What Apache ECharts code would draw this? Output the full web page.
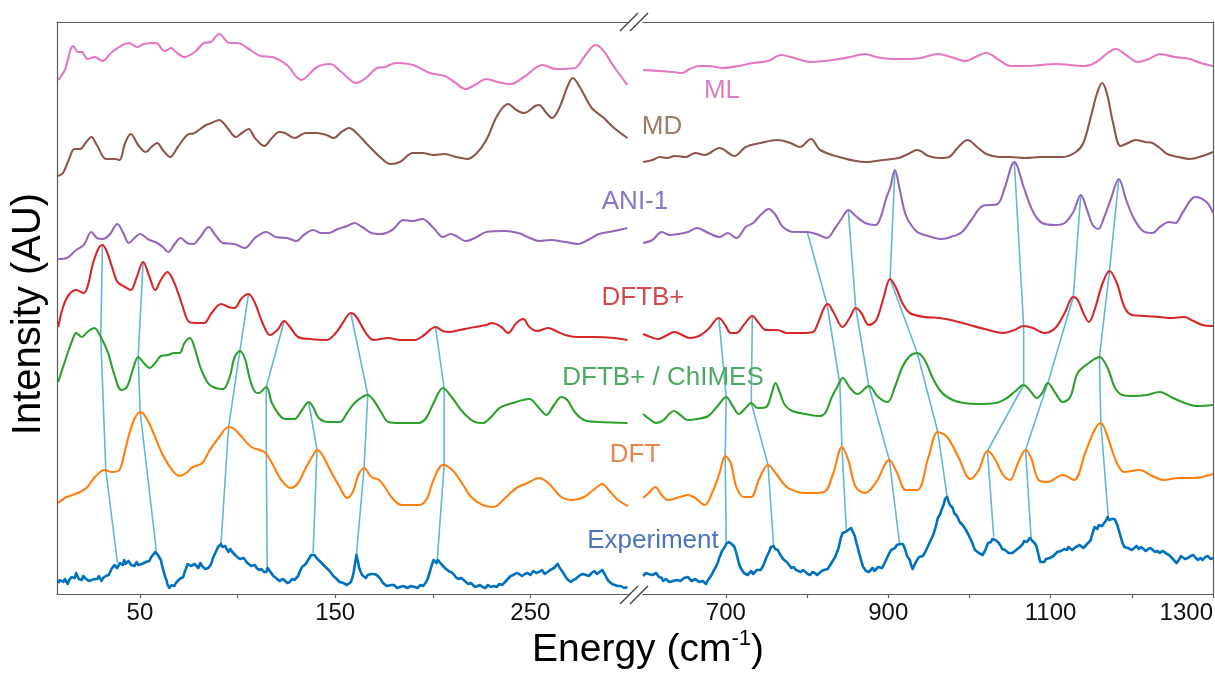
<!DOCTYPE html>
<html><head><meta charset="utf-8">
<script src="https://cdn.jsdelivr.net/npm/echarts@6/dist/echarts.min.js"></script>
<style>html,body{margin:0;padding:0;background:#fff}#c{width:1215px;height:673px}</style>
</head><body><div id="c"></div>
<script>
// ---------- tick values ----------
const leftTicks = [50, 100, 150, 200, 250];
const leftTickLabels = [50, 150, 250];
const rightTicks = [700, 800, 900, 1000, 1100, 1200, 1300];
const rightTickLabels = [700, 900, 1100, 1300];

// ---------- series names ----------
const names = ['ML', 'MD', 'ANI-1', 'DFTB+', 'DFTB+ / ChIMES', 'DFT', 'Experiment'];

// ---------- spectra (energy cm^-1, stacked intensity AU) ----------
const mlLeft = [[8.1,51.4],[11.5,52.4],[15.8,54.8],[18.3,54.2],[20.2,54.2],[23.1,53.5],[26.9,53.7],[30.8,53.3],[35.7,54.2],[44.3,55.1],[48.6,54.7],[52.0,55.0],[58.2,55.1],[62.6,54.3],[65.9,54.6],[68.4,54.2],[72.8,53.7],[78.0,54.2],[82.8,55.1],[86.3,55.2],[90.6,56.0],[96.0,55.1],[100.2,55.1],[105.0,54.6],[111.8,53.8],[117.6,53.7],[125.3,52.9],[132.6,51.4],[140.7,52.7],[147.4,53.0],[153.2,52.2],[160.9,51.1],[165.7,51.6],[171.5,52.6],[175.4,52.7],[181.1,53.1],[189.8,52.9],[198.5,52.1],[206.2,51.8],[211.0,51.2],[216.8,50.5],[221.6,50.9],[227.4,51.5],[233.2,51.2],[240.0,51.0],[246.7,51.7],[256.3,52.9],[263.1,52.5],[272.7,52.6],[277.5,53.7],[283.3,54.9],[287.1,54.4],[292.9,52.7],[299.7,50.9]];
const mlRight = [[598,52.4],[618.8,52.3],[634.8,52.2],[646.3,52.1],[655.5,52.5],[667.0,52.8],[678.5,52.8],[696.9,52.6],[715.3,52.8],[733.6,53.1],[752.0,53.3],[768.1,53.9],[784.2,53.6],[804.9,53.2],[820.9,53.3],[839.3,53.5],[853.1,53.7],[871.5,54.0],[885.3,53.7],[903.7,53.5],[922.0,53.5],[940.4,53.6],[961.1,54.0],[977.2,53.7],[995.6,53.3],[1007.0,53.7],[1020.8,54.1],[1034.6,53.5],[1050.7,52.8],[1069.1,52.8],[1087.5,52.9],[1105.8,53.0],[1124.2,52.9],[1142.6,52.8],[1156.4,53.2],[1170.2,54.1],[1180.3,54.5],[1193.1,53.9],[1206.9,53.2],[1220.7,53.5],[1234.5,54.0],[1252.9,53.7],[1271.3,53.5],[1285.0,53.1],[1300,52.8]];

const mdLeft = [[8.1,41.8],[10.6,42.1],[13.5,43.4],[16.4,44.5],[19.3,44.5],[22.1,45.1],[25.1,45.7],[27.9,44.9],[32.7,43.5],[37.6,43.5],[39.5,43.4],[42.4,45.1],[45.3,46.0],[49.1,44.9],[53.0,44.2],[55.9,44.7],[58.8,45.1],[61.7,44.4],[65.5,43.7],[69.4,44.7],[74.2,45.9],[78.0,46.1],[83.8,46.9],[86.7,47.1],[90.6,47.4],[94.4,46.7],[99.2,45.7],[102.2,46.1],[105.6,46.5],[108.9,45.6],[113.7,44.8],[117.6,45.6],[121.4,46.2],[124.3,46.1],[129.1,45.6],[134.9,46.1],[140.7,46.1],[145.5,45.9],[149.3,45.6],[153.2,46.2],[157.1,46.6],[160.9,46.1],[167.7,44.7],[173.5,43.6],[178.3,43.0],[183.1,43.2],[189.8,44.1],[194.6,44.1],[200.4,43.9],[206.2,44.0],[212.0,43.7],[217.8,43.5],[222.6,44.1],[227.4,45.4],[233.2,47.9],[238.6,49.0],[242.8,48.4],[246.7,48.1],[252.5,48.8],[254.4,48.9],[258.2,48.1],[261.1,47.6],[265.0,48.7],[268.9,50.7],[271.7,51.6],[275.6,50.6],[281.4,48.6],[287.1,47.7],[292.9,46.6],[299.7,45.6]];
const mdRight = [[598.1,43.2],[609.6,43.4],[618.8,43.7],[628.0,43.6],[637.1,43.8],[650.9,43.7],[662.4,44.1],[673.9,43.9],[692.3,44.6],[710.7,43.8],[724.4,44.7],[742.8,45.1],[763.5,45.4],[779.6,45.1],[791.1,44.7],[804.9,45.5],[816.3,44.4],[843.9,43.6],[871.5,43.2],[894.5,43.4],[912.8,43.6],[924.3,44.0],[935.8,44.4],[949.6,43.8],[963.4,43.6],[974.9,43.7],[986.4,44.7],[997.8,45.4],[1009.3,44.7],[1020.8,44.0],[1036.9,43.7],[1050.7,43.7],[1069.1,43.6],[1087.5,43.7],[1115.0,43.7],[1131.1,44.2],[1140.3,45.1],[1149.5,47.7],[1157.3,50.1],[1163.3,51.1],[1169.2,50.1],[1177.0,47.1],[1186.2,44.8],[1195.4,45.1],[1204.6,45.4],[1216.1,45.2],[1225.3,45.1],[1234.5,44.6],[1243.7,44.0],[1257.5,43.7],[1271.3,43.5],[1287.3,43.8],[1300,44.2]];

const aniLeft = [[8.1,33.5],[12.5,33.6],[17.3,34.4],[21.2,34.9],[25.1,36.2],[27.9,35.6],[30.8,35.5],[34.3,35.9],[38.5,37.0],[41.4,36.1],[44.3,35.1],[47.2,35.6],[50.1,36.0],[53.9,35.5],[58.8,35.1],[61.7,34.7],[64.5,34.2],[67.4,34.9],[70.9,35.6],[74.2,35.1],[77.1,35.0],[80.9,35.7],[85.2,36.7],[88.6,35.9],[92.5,35.1],[98.3,35.0],[103.7,34.6],[108.9,35.6],[114.7,36.2],[119.5,35.7],[125.3,35.6],[130.1,35.3],[133.9,35.9],[138.7,36.4],[142.6,36.1],[146.5,36.1],[151.3,36.5],[156.1,36.8],[159.9,37.1],[163.8,36.7],[168.6,36.1],[173.5,36.0],[179.2,36.4],[185.0,37.4],[189.8,37.3],[194.6,37.5],[200.4,36.6],[205.2,35.7],[209.1,36.0],[212.0,35.8],[216.8,35.3],[222.6,35.7],[227.4,36.2],[237.0,36.3],[243.8,36.1],[248.6,35.7],[254.4,35.3],[260.2,35.4],[267.9,35.2],[274.6,35.0],[279.5,35.4],[285.2,36.0],[292.9,36.3],[299.7,36.6]];
const aniRight = [[598.1,35.1],[609.6,35.4],[621.1,36.2],[630.2,35.9],[641.7,36.0],[653.2,36.2],[664.7,36.6],[678.5,36.1],[692.3,35.7],[702.4,36.1],[713.0,35.6],[724.4,36.7],[733.6,37.1],[742.8,37.9],[752.9,38.5],[761.2,37.9],[770.4,36.7],[784.2,36.2],[800.3,36.2],[811.8,36.0],[824.6,35.6],[834.7,36.6],[843.9,37.7],[850.8,38.4],[860.0,37.8],[871.5,37.1],[884.4,36.9],[890.8,37.7],[896.8,39.4],[902.3,40.6],[908.2,42.4],[913.8,40.6],[919.7,38.4],[924.3,37.4],[935.8,36.2],[949.6,35.8],[965.7,35.5],[977.2,35.7],[990.9,36.2],[1002.4,37.4],[1016.2,38.8],[1034.6,39.0],[1043.8,40.7],[1055.3,43.2],[1066.8,40.7],[1073.7,39.1],[1080.6,37.9],[1089.7,37.1],[1105.8,36.9],[1117.3,37.1],[1127.9,38.2],[1137.1,39.9],[1144.9,38.4],[1151.8,36.9],[1158.7,36.5],[1165.6,37.6],[1173.8,39.4],[1184.0,41.5],[1193.1,39.4],[1202.3,37.6],[1213.8,36.3],[1225.3,36.1],[1234.5,36.7],[1246.0,37.2],[1253.8,37.1],[1263.0,38.2],[1278.1,39.7],[1292.0,39.2],[1300,38.1]];

const dftbLeft = [[8.1,26.7],[10.6,28.7],[13.5,29.9],[17.3,30.4],[21.2,30.1],[23.1,30.7],[26.0,33.1],[28.9,34.6],[30.8,34.9],[32.7,34.4],[35.7,32.7],[38.5,31.2],[42.4,30.7],[45.3,30.4],[48.2,31.6],[51.6,33.2],[54.9,31.7],[57.8,30.4],[60.7,31.4],[64.0,32.2],[67.4,31.2],[71.3,29.1],[75.2,27.2],[79.0,27.1],[82.8,27.1],[86.7,28.1],[91.5,29.0],[95.4,28.7],[98.3,28.6],[102.2,29.6],[105.6,30.0],[108.9,29.1],[112.8,27.1],[116.6,25.9],[120.4,26.4],[123.9,27.3],[127.2,26.6],[131.0,25.7],[136.8,25.5],[145.5,25.4],[150.3,26.1],[154.2,27.2],[158.0,28.1],[160.9,27.7],[165.7,26.1],[169.6,25.4],[177.3,25.6],[183.1,25.4],[190.8,25.4],[195.6,25.9],[201.4,26.7],[205.2,26.3],[208.1,26.2],[213.9,26.4],[221.6,26.7],[227.4,26.9],[230.3,27.1],[235.1,26.7],[238.6,26.1],[242.8,27.1],[246.3,27.5],[249.5,26.7],[253.4,26.3],[259.2,26.6],[263.1,26.3],[267.9,25.9],[273.7,25.7],[283.3,25.7],[292.9,25.6],[299.7,25.4]];
const dftbRight = [[598.1,26.0],[607.3,25.7],[616.5,25.5],[625.7,25.8],[637.1,26.2],[646.3,25.9],[655.5,25.6],[667.0,25.8],[678.5,26.5],[691.4,27.6],[699.2,26.9],[706.1,26.1],[713.0,26.1],[722.1,26.9],[732.7,27.8],[740.5,27.1],[749.7,26.4],[763.5,26.4],[775.0,26.1],[793.4,26.1],[807.2,26.2],[814.0,27.2],[820.9,28.6],[825.5,29.0],[832.4,28.2],[843.9,26.7],[853.1,27.7],[860.0,28.6],[866.9,28.1],[876.1,26.9],[885.3,27.4],[894.5,29.7],[902.3,31.5],[909.2,30.7],[917.4,29.1],[926.6,28.1],[945.0,27.7],[963.4,27.6],[981.8,27.3],[1000.1,26.9],[1018.5,26.5],[1041.5,26.1],[1055.3,26.4],[1066.8,26.8],[1078.3,26.6],[1092.0,26.1],[1105.8,26.6],[1117.3,28.1],[1127.9,29.7],[1133.4,29.4],[1140.3,28.1],[1147.2,27.2],[1154.1,28.4],[1163.3,30.9],[1172.5,32.3],[1181.6,31.1],[1190.8,28.7],[1200.0,27.9],[1216.1,27.8],[1234.5,27.7],[1248.3,27.6],[1264.4,27.7],[1275.8,27.3],[1287.3,26.9],[1300,26.8]];

const chimesLeft = [[8.1,21.2],[10.6,22.7],[13.5,24.4],[15.4,25.4],[17.3,26.1],[20.2,25.7],[23.1,26.2],[26.6,26.6],[29.9,25.7],[33.7,24.1],[36.6,22.1],[40.5,20.4],[43.3,20.7],[46.3,22.4],[49.1,23.7],[52.0,23.1],[54.9,22.6],[57.8,23.1],[60.7,23.8],[64.5,23.9],[67.4,24.1],[70.3,24.1],[72.8,25.1],[75.6,25.6],[78.0,24.6],[80.9,22.7],[84.8,21.1],[88.6,20.6],[92.5,20.5],[96.0,21.7],[98.3,23.6],[101.2,24.3],[104.0,23.4],[106.0,21.7],[108.9,20.2],[110.8,20.1],[114.7,20.7],[117.6,19.1],[121.4,17.9],[124.3,17.5],[129.1,17.5],[133.0,18.4],[136.4,19.2],[138.7,18.7],[141.6,17.6],[146.5,17.2],[152.3,17.2],[156.1,18.1],[159.9,19.1],[164.8,19.8],[166.7,19.9],[169.6,19.4],[173.5,18.2],[177.3,17.2],[183.1,17.1],[192.7,17.1],[196.6,17.6],[200.4,19.1],[205.2,20.6],[210.0,19.6],[215.8,18.1],[221.6,17.2],[225.5,17.1],[229.3,17.6],[234.2,18.6],[240.9,19.1],[249.5,19.5],[254.4,18.6],[258.2,17.9],[262.1,18.9],[265.9,19.7],[268.9,19.4],[272.7,18.2],[277.5,17.4],[285.2,17.2],[299.7,17.1]];
const chimesRight = [[598.1,18.0],[607.3,17.4],[614.2,17.1],[623.4,17.4],[630.2,18.0],[636.2,18.3],[644.0,17.9],[653.2,17.4],[664.7,17.5],[678.5,17.8],[690.0,18.8],[700.5,19.7],[708.4,18.8],[716.2,18.0],[724.4,18.6],[731.3,19.1],[739.1,18.6],[749.7,18.7],[756.6,20.1],[761.2,21.1],[766.7,20.1],[772.7,18.9],[781.9,18.3],[798.0,18.0],[816.3,17.8],[823.2,18.2],[830.1,19.6],[838.4,20.9],[843.9,21.6],[853.1,20.6],[862.3,20.0],[876.1,20.8],[887.6,19.7],[899.1,19.2],[908.2,20.7],[917.4,22.7],[926.6,23.8],[935.8,24.1],[945.0,23.4],[954.2,21.7],[963.4,20.4],[972.6,19.7],[986.4,19.2],[1009.3,19.0],[1032.3,19.1],[1046.1,19.6],[1055.3,20.2],[1066.8,20.9],[1076.0,20.2],[1082.9,19.6],[1089.7,20.1],[1096.6,21.1],[1105.8,20.1],[1115.0,19.2],[1124.2,19.7],[1133.4,22.1],[1147.2,23.1],[1160.1,23.7],[1170.2,22.6],[1179.4,20.6],[1188.5,19.9],[1202.3,19.8],[1218.4,19.9],[1234.5,20.2],[1248.3,19.7],[1262.1,19.2],[1280.4,18.8],[1300,18.9]];

const dftLeft = [[8.1,9.1],[11.5,9.6],[15.4,9.9],[19.3,10.2],[23.1,10.7],[26.9,11.7],[31.8,12.4],[35.7,12.2],[39.5,12.4],[42.4,14.4],[46.3,17.1],[50.1,18.2],[53.0,17.7],[56.9,16.1],[61.7,13.9],[66.5,12.4],[70.3,11.8],[74.2,12.2],[77.1,12.7],[81.9,13.1],[85.8,14.4],[90.6,15.7],[95.4,16.7],[98.3,16.5],[102.2,15.7],[107.0,14.7],[113.7,14.2],[117.6,13.1],[122.4,11.4],[127.2,10.6],[131.0,11.1],[134.9,12.6],[138.7,13.9],[140.7,14.4],[143.5,13.9],[147.4,12.4],[152.3,10.7],[156.1,9.6],[159.0,10.2],[161.9,11.9],[164.8,12.6],[168.6,11.7],[172.5,11.4],[175.4,10.7],[179.2,9.6],[184.0,8.9],[192.7,8.9],[196.6,9.4],[200.4,11.4],[205.2,12.9],[210.0,12.4],[214.9,11.1],[219.7,9.7],[225.5,8.9],[231.2,8.7],[237.0,9.6],[242.8,10.6],[248.6,11.1],[254.4,11.6],[259.2,11.1],[265.9,9.7],[271.7,9.4],[277.5,9.7],[282.3,10.4],[286.8,11.0],[290.1,10.4],[294.9,9.4],[300,8.8]];
const dftRight = [[598.1,9.6],[605.0,10.1],[613.2,10.7],[621.1,9.9],[628.0,9.4],[639.4,9.6],[653.2,9.9],[662.4,9.6],[673.9,8.9],[683.1,10.1],[692.3,12.1],[699.2,13.8],[706.1,13.1],[713.0,10.7],[722.1,9.7],[731.3,9.7],[740.5,11.4],[752.0,12.9],[761.2,12.1],[775.0,10.7],[788.8,10.2],[802.6,10.1],[820.9,10.2],[832.4,12.1],[843.0,14.7],[850.8,13.4],[860.0,10.7],[871.5,10.1],[885.3,11.2],[901.4,13.4],[910.5,12.2],[922.0,10.4],[935.8,10.4],[949.6,13.7],[961.1,16.2],[972.6,15.7],[986.4,13.7],[1001.1,11.5],[1011.6,12.4],[1022.2,14.3],[1030.0,13.7],[1041.5,11.9],[1049.8,11.4],[1059.9,13.1],[1069.1,14.4],[1076.0,13.6],[1085.2,11.4],[1096.6,11.2],[1115.0,11.9],[1128.8,11.4],[1142.6,14.1],[1154.1,16.4],[1161.9,17.1],[1170.2,15.7],[1181.6,13.1],[1190.8,12.2],[1209.2,12.4],[1225.3,11.8],[1239.1,11.4],[1257.5,11.6],[1275.8,11.6],[1300,12.0]];

const expLeft = [[8.1,1.1],[9.0,1.4],[9.8,1.5],[10.7,1.2],[11.5,1.5],[12.2,1.3],[13.0,1.0],[13.7,1.4],[14.4,1.3],[15.1,1.7],[15.8,1.9],[16.6,1.6],[17.3,2.1],[18.0,1.8],[18.7,1.5],[19.4,1.3],[20.2,1.4],[20.9,1.8],[21.6,1.9],[22.4,1.5],[23.1,1.6],[23.8,1.3],[24.5,1.1],[25.3,1.4],[26.0,1.2],[26.7,1.5],[27.4,1.7],[28.2,1.5],[28.9,1.8],[29.6,1.6],[30.3,1.3],[31.1,1.6],[31.8,1.5],[32.5,1.8],[33.2,1.6],[34.0,1.9],[34.7,2.1],[35.4,2.5],[36.1,2.4],[36.9,2.9],[37.6,3.0],[38.3,2.6],[39.0,2.8],[39.8,3.1],[40.5,3.2],[41.2,2.9],[41.9,3.4],[42.6,3.0],[43.3,2.9],[44.1,3.3],[44.8,3.3],[45.5,2.9],[46.3,3.1],[47.2,2.8],[48.2,3.2],[49.1,2.9],[50.1,2.7],[51.0,3.0],[52.0,2.9],[53.0,3.2],[53.9,3.4],[54.8,3.3],[55.8,3.7],[56.8,3.9],[57.8,4.2],[58.5,4.0],[59.2,3.9],[60.0,3.7],[60.7,3.4],[61.4,2.8],[62.1,2.3],[62.9,1.7],[63.6,1.4],[64.0,1.0],[64.5,0.9],[65.0,0.6],[65.5,0.7],[66.2,0.9],[66.9,1.0],[67.6,0.8],[68.4,1.1],[69.3,1.3],[70.3,1.5],[71.2,1.4],[72.2,1.7],[72.9,2.2],[73.7,2.6],[74.4,3.0],[75.2,3.1],[76.1,2.8],[77.1,2.7],[78.0,3.0],[79.0,2.8],[79.9,2.6],[80.9,3.1],[81.8,2.8],[82.8,2.9],[83.5,2.5],[84.3,2.3],[85.0,2.6],[85.8,2.4],[86.5,3.0],[87.2,3.5],[87.9,3.8],[88.6,4.1],[89.3,4.4],[90.0,4.7],[90.8,4.6],[91.5,5.0],[92.2,4.7],[92.9,4.5],[93.7,4.8],[94.4,4.5],[95.4,4.2],[96.3,4.5],[97.3,4.2],[98.3,4.1],[99.2,3.8],[100.2,3.9],[101.2,3.5],[102.2,3.4],[103.1,3.6],[104.1,3.4],[105.0,3.1],[106.0,3.1],[107.0,2.8],[107.9,2.7],[108.9,2.9],[109.8,2.6],[111.0,2.4],[112.2,2.5],[113.5,2.2],[114.7,2.2],[115.4,2.6],[116.1,2.5],[116.9,2.2],[117.6,2.1],[118.3,1.8],[119.0,1.9],[119.7,1.6],[120.4,1.5],[121.4,1.3],[122.3,1.2],[123.3,1.5],[124.3,1.4],[125.5,1.1],[126.7,1.2],[127.9,1.5],[129.1,1.4],[130.1,1.6],[131.0,1.8],[132.0,2.3],[133.0,2.7],[133.9,2.8],[134.9,3.0],[135.8,3.3],[136.8,3.6],[137.7,3.9],[138.7,4.1],[139.4,3.9],[140.1,3.8],[140.9,3.5],[141.6,3.6],[142.6,3.2],[143.5,3.0],[144.5,2.8],[145.5,2.6],[146.7,2.4],[147.9,2.1],[149.1,1.8],[150.3,1.6],[151.3,1.4],[152.2,1.2],[153.2,1.3],[154.2,1.1],[155.1,0.9],[156.1,0.9],[157.1,1.1],[158.0,1.2],[158.8,1.6],[159.5,2.2],[160.2,3.1],[160.9,3.9],[161.6,3.3],[162.3,2.6],[163.1,2.2],[163.8,1.9],[164.7,1.7],[165.7,1.6],[166.7,1.9],[167.7,1.7],[168.4,2.0],[169.1,2.2],[169.9,2.0],[170.6,2.1],[171.3,1.9],[172.0,1.7],[172.8,1.6],[173.5,1.4],[174.5,1.1],[175.4,0.9],[176.4,0.8],[177.3,0.7],[178.8,0.9],[180.2,0.9],[181.7,0.6],[183.1,0.7],[185.0,0.8],[186.9,0.6],[188.8,0.8],[190.8,0.7],[192.2,0.6],[193.7,0.9],[195.1,0.8],[196.6,1.2],[197.5,1.6],[198.5,2.2],[199.5,2.9],[200.4,3.4],[201.2,3.2],[201.9,3.1],[202.6,3.4],[203.3,3.4],[204.3,3.0],[205.3,2.9],[206.2,2.6],[207.2,2.6],[208.1,2.3],[209.1,2.1],[210.1,2.1],[211.0,1.9],[212.2,1.6],[213.4,1.5],[214.6,1.6],[215.8,1.4],[217.0,1.2],[218.2,1.0],[219.4,1.1],[220.6,0.9],[221.8,0.7],[223.0,0.8],[224.2,0.9],[225.5,0.7],[226.9,0.6],[228.3,0.9],[229.8,0.7],[231.2,0.8],[232.7,0.7],[234.1,1.0],[235.5,0.9],[237.0,1.2],[238.4,1.5],[239.9,1.8],[241.3,1.9],[242.8,2.1],[244.2,2.0],[245.7,1.8],[247.2,2.0],[248.6,2.1],[250.0,1.9],[251.5,2.3],[253.0,2.1],[254.4,2.2],[255.9,2.4],[257.3,2.0],[258.8,2.2],[260.2,2.4],[261.2,2.3],[262.1,2.6],[263.1,2.7],[264.0,3.0],[264.7,2.8],[265.4,2.5],[266.2,2.3],[266.9,2.1],[267.8,1.8],[268.8,1.5],[269.7,1.3],[270.7,1.2],[271.9,1.4],[273.1,1.5],[274.3,1.7],[275.6,1.9],[277.0,2.0],[278.5,1.9],[279.9,1.8],[281.4,2.1],[282.8,2.3],[284.1,2.0],[285.4,2.2],[286.8,2.4],[287.4,2.2],[288.0,2.0],[288.5,1.8],[289.1,1.6],[290.0,1.3],[291.0,1.1],[291.9,1.0],[292.9,0.9],[294.6,0.8],[296.3,0.8],[298.0,0.6],[299.7,0.7]];
const expRight = [[598.1,1.8],[599.8,2.0],[601.5,2.1],[603.2,1.9],[605.0,2.0],[607.3,2.2],[609.6,1.9],[611.9,2.0],[614.2,2.1],[616.0,1.9],[617.7,1.7],[619.4,1.8],[621.1,1.6],[622.8,1.3],[624.6,1.2],[626.3,1.5],[628.0,1.4],[630.3,1.2],[632.5,1.1],[634.8,1.3],[637.1,1.2],[639.4,1.4],[641.7,1.6],[644.0,1.3],[646.3,1.5],[648.6,1.6],[650.9,1.4],[653.2,1.7],[655.5,1.6],[657.8,1.3],[660.1,1.2],[662.4,1.5],[664.7,1.4],[667.0,1.2],[669.3,1.1],[671.6,1.3],[673.9,1.2],[675.6,1.0],[677.4,1.3],[679.1,1.4],[680.8,1.7],[683.1,2.0],[685.4,2.4],[687.7,2.7],[690.0,3.1],[691.8,3.6],[693.5,3.9],[695.2,4.3],[696.9,4.4],[698.7,4.7],[700.4,5.0],[702.1,4.9],[703.8,5.2],[705.5,5.1],[707.2,5.0],[709.0,4.8],[710.7,4.7],[712.5,4.2],[714.2,3.7],[715.9,3.1],[717.6,2.7],[719.9,2.4],[722.2,2.1],[724.5,2.2],[726.7,1.9],[729.0,2.0],[731.3,2.3],[733.6,2.0],[735.9,2.1],[738.2,2.4],[740.5,2.5],[742.8,2.4],[745.1,2.7],[747.4,3.1],[749.7,3.6],[752.0,4.0],[754.3,4.4],[755.5,4.7],[756.6,4.9],[757.8,4.6],[758.9,4.8],[760.7,4.5],[762.4,4.3],[764.1,4.4],[765.8,4.1],[768.1,3.8],[770.4,3.5],[772.7,3.4],[775.0,3.2],[777.9,2.9],[780.8,2.6],[783.6,2.7],[786.5,2.4],[789.4,2.3],[792.3,2.2],[795.1,2.4],[798.0,2.2],[800.9,2.0],[803.8,1.9],[806.7,2.2],[809.5,2.1],[812.4,1.9],[815.2,2.1],[818.1,2.3],[820.9,2.4],[823.2,2.2],[825.5,2.5],[827.8,2.8],[830.1,3.1],[832.4,3.4],[834.7,3.7],[837.0,4.2],[839.3,4.7],[840.5,5.2],[841.6,5.6],[842.8,5.8],[843.9,6.1],[845.7,5.9],[847.4,6.2],[849.1,6.0],[850.8,6.4],[852.6,6.3],[854.3,6.6],[856.0,6.3],[857.7,6.1],[858.9,5.8],[860.0,5.4],[861.2,5.0],[862.3,4.7],[864.1,4.1],[865.8,3.6],[867.5,3.1],[869.2,2.7],[871.0,2.5],[872.7,2.3],[874.4,2.4],[876.1,2.2],[878.4,2.4],[880.7,2.6],[883.0,2.3],[885.3,2.4],[887.6,2.7],[889.9,2.8],[892.2,2.6],[894.5,2.9],[896.8,3.3],[899.1,3.7],[901.4,4.1],[903.7,4.4],[906.0,4.3],[908.3,4.6],[910.6,4.9],[912.8,5.1],[914.6,5.0],[916.3,5.2],[918.0,5.0],[919.7,4.7],[921.5,4.3],[923.2,3.8],[924.9,3.6],[926.6,3.4],[927.8,3.0],[928.9,2.8],[930.1,2.5],[931.2,2.6],[932.4,2.9],[933.5,3.0],[934.7,3.3],[935.8,3.4],[938.1,3.7],[940.4,3.9],[942.7,3.8],[945.0,4.1],[947.3,4.5],[949.6,4.9],[951.9,5.3],[954.2,5.7],[955.9,6.0],[957.7,6.5],[959.4,7.0],[961.1,7.6],[962.6,7.8],[964.1,8.0],[965.6,8.4],[967.1,8.7],[968.5,9.0],[969.9,9.5],[971.3,9.3],[972.6,9.7],[974.4,9.2],[976.1,8.9],[977.8,8.7],[979.5,8.6],[981.2,8.1],[983.0,7.9],[984.7,7.8],[986.4,7.6],[988.1,7.2],[989.9,7.0],[991.6,6.9],[993.3,6.7],[995.0,6.5],[996.7,6.4],[998.4,6.0],[1000.1,5.7],[1001.9,5.4],[1003.6,5.1],[1005.3,4.7],[1007.0,4.4],[1009.3,4.2],[1011.6,4.1],[1013.9,4.0],[1016.2,3.9],[1017.9,4.1],[1019.7,4.4],[1021.4,4.8],[1023.1,5.1],[1024.8,5.0],[1026.6,5.2],[1028.3,5.5],[1030.0,5.7],[1031.7,5.4],[1033.5,5.5],[1035.2,5.2],[1036.9,5.1],[1038.6,4.8],[1040.4,4.5],[1042.1,4.6],[1043.8,4.4],[1046.1,4.2],[1048.4,4.1],[1050.7,4.3],[1053.0,4.1],[1055.3,4.3],[1057.6,4.4],[1059.9,4.5],[1062.2,4.7],[1064.0,4.9],[1065.7,5.0],[1067.4,5.3],[1069.1,5.4],[1070.8,5.2],[1072.6,5.3],[1074.3,5.6],[1076.0,5.6],[1077.7,5.3],[1079.5,5.4],[1081.2,5.0],[1082.9,4.7],[1084.0,4.3],[1085.2,3.9],[1086.3,3.5],[1087.5,3.2],[1089.8,3.3],[1092.1,3.2],[1094.4,3.5],[1096.6,3.4],[1098.9,3.6],[1101.2,3.5],[1103.5,3.8],[1105.8,3.9],[1108.1,4.2],[1110.4,4.1],[1112.7,4.3],[1115.0,4.2],[1116.7,4.5],[1118.5,4.6],[1120.2,4.4],[1121.9,4.7],[1124.2,4.5],[1126.5,4.4],[1128.8,4.6],[1131.1,4.7],[1133.4,4.5],[1135.7,4.9],[1138.0,4.8],[1140.3,4.6],[1142.6,4.8],[1144.9,5.0],[1147.2,5.2],[1149.5,5.4],[1150.7,5.8],[1151.8,6.0],[1153.0,6.4],[1154.1,6.7],[1155.9,6.6],[1157.6,6.5],[1159.3,6.9],[1161.0,7.1],[1163.3,6.8],[1165.6,6.9],[1167.9,7.3],[1170.2,7.7],[1171.9,7.4],[1173.6,7.2],[1175.3,7.5],[1177.0,7.6],[1178.8,7.5],[1180.5,7.3],[1182.2,6.9],[1183.9,6.4],[1185.7,5.9],[1187.4,5.4],[1189.1,5.0],[1190.8,4.7],[1193.1,4.8],[1195.4,4.6],[1197.7,4.5],[1200.0,4.4],[1202.9,4.6],[1205.8,4.8],[1208.7,4.5],[1211.5,4.7],[1214.4,4.5],[1217.3,4.3],[1220.2,4.5],[1223.0,4.6],[1225.9,4.4],[1228.8,4.2],[1231.7,4.3],[1234.5,4.1],[1237.4,4.3],[1240.3,4.2],[1243.2,4.0],[1246.0,3.9],[1248.3,3.7],[1250.6,3.5],[1252.9,3.3],[1255.2,3.1],[1257.0,3.3],[1258.7,3.5],[1260.4,3.8],[1262.1,3.7],[1265.6,3.5],[1269.0,3.6],[1272.4,3.8],[1275.8,3.9],[1278.7,3.6],[1281.6,3.4],[1284.5,3.6],[1287.3,3.4],[1290.5,3.7],[1293.7,3.8],[1296.9,3.5],[1300,3.6]];

// ---------- peak-assignment connectors ----------
const connLeft = [
  [[30.8,34.9],[29.9,25.8],[32.5,12.4],[38.5,3.1]],
  [[51.6,33.2],[49.1,23.7],[50.1,18.2],[58.4,4.3]],
  [[105.6,30.0],[101.2,24.3],[95.4,16.7],[91.5,5.0]],
  [[123.9,27.3],[114.7,20.7],[114.7,14.2],[115.2,2.3]],
  [[136.4,19.2],[140.7,14.4],[138.7,4.1]],
  [[158.0,28.1],[166.7,19.9],[164.8,12.6],[160.9,3.9]],
  [[201.4,26.7],[205.8,20.6],[205.8,12.9],[202.3,3.4]]
];
const connRight = [
  [[691.4,27.6],[700.5,19.7],[699.2,13.8],[700.5,5.1]],
  [[732.7,27.8],[731.3,19.1],[752.0,12.9],[758.9,4.8]],
  [[800.3,36.2],[824.6,29.0],[840.5,21.0],[843.0,14.7],[848.5,6.3]],
  [[850.8,38.4],[860.0,28.6],[876.1,20.8],[901.4,13.4],[913.8,5.1]],
  [[908.2,42.4],[902.3,31.5],[935.8,24.1],[961.1,16.2],[972.6,9.7]],
  [[1055.3,43.2],[1066.8,26.8],[1066.8,20.9],[1022.2,14.3],[1030.0,5.7]],
  [[1137.1,39.9],[1127.9,29.7],[1096.6,21.1],[1069.1,14.4],[1076.0,5.6]],
  [[1184.0,41.5],[1172.5,32.3],[1160.1,23.7],[1161.9,17.1],[1171.1,7.6]]
];

// ---------- styling ----------
const FONT = '"Liberation Sans", Arial, Helvetica, sans-serif';
const lineColors = ['#e377c2', '#8c564b', '#9467bd', '#d62728', '#2ca02c', '#ff7f0e', '#0072bd'];
const labelColors = ['#d87fc3', '#9c7b69', '#8a76c3', '#d24a4c', '#4caa62', '#e5864f', '#4d74b9'];
const connColor = '#62b7d2';
const axisColor = '#5a5a5a';

const leftData = [mlLeft, mdLeft, aniLeft, dftbLeft, chimesLeft, dftLeft, expLeft];
const rightData = [mlRight, mdRight, aniRight, dftbRight, chimesRight, dftRight, expRight];

const chart = echarts.init(document.getElementById('c'), null, {renderer: 'canvas'});

function xAx(grid, min, max, ticks, labels, pos, alignMax) {
  const top = pos === 'top';
  return {
    type: 'value', gridIndex: grid, min: min, max: max, position: pos,
    axisLine: {show: true, onZero: false, lineStyle: {color: axisColor, width: 1.2}},
    axisTick: {show: !top, customValues: ticks, length: 4, inside: false, lineStyle: {color: axisColor, width: 1.2}},
    axisLabel: {show: !top, customValues: labels, fontSize: 24, fontFamily: FONT, color: '#111', margin: 7,
      alignMaxLabel: alignMax ? 'right' : null,
      formatter: function (v) { return String(v); }},
    splitLine: {show: false}
  };
}
function yAx(grid, pos) {
  return {
    type: 'value', gridIndex: grid, min: 0, max: 57.2, position: pos,
    axisLine: {show: true, onZero: false, lineStyle: {color: axisColor, width: 1.2}},
    axisTick: {show: false}, axisLabel: {show: false}, splitLine: {show: false}
  };
}

const series = [];
function addConn(list, xi) {
  list.forEach(function (seg) {
    series.push({type: 'line', xAxisIndex: xi, yAxisIndex: xi, data: seg, showSymbol: false, silent: true,
      smooth: false, z: 1, lineStyle: {color: connColor, width: 1.6}});
  });
}
addConn(connLeft, 0);
addConn(connRight, 1);
names.forEach(function (nm, i) {
  const isExp = nm === 'Experiment';
  [leftData[i], rightData[i]].forEach(function (d, xi) {
    series.push({
      name: nm, type: 'line', xAxisIndex: xi, yAxisIndex: xi, data: d, showSymbol: false,
      smooth: isExp ? false : 0.35, z: 3,
      lineStyle: {color: lineColors[i], width: isExp ? 2.6 : 2.1, join: 'round'}
    });
  });
});

// series-name labels
const nameLabels = [
  {t: 'ML', x: 722, y: 91}, {t: 'MD', x: 662, y: 127}, {t: 'ANI-1', x: 635, y: 202},
  {t: 'DFTB+', x: 643, y: 298}, {t: 'DFTB+ / ChIMES', x: 663, y: 378}, {t: 'DFT', x: 635, y: 455},
  {t: 'Experiment', x: 653, y: 541}
];
const graphics = nameLabels.map(function (o, i) {
  return {type: 'text', x: o.x, y: o.y, z: 10,
    style: {text: o.t, fill: labelColors[i], fontSize: 26, fontFamily: FONT, align: 'center', verticalAlign: 'middle'}};
});
graphics.push({type: 'text', x: 29, y: 314, rotation: Math.PI / 2, z: 10,
  style: {text: 'Intensity (AU)', fill: '#000', fontSize: 40, fontFamily: FONT, align: 'center', verticalAlign: 'middle'}});
graphics.push({type: 'text', x: 648, y: 650, z: 10,
  style: {text: '{a|Energy (cm}{s|-1}{a|)}', align: 'center', verticalAlign: 'middle',
    rich: {a: {fontSize: 39, fontFamily: FONT, fill: '#000', lineHeight: 44},
           s: {fontSize: 22, fontFamily: FONT, fill: '#000', verticalAlign: 'top', lineHeight: 22}}}});
// axis-break marks
[[620, 31, 638, 13], [630, 31, 648, 13], [620, 604, 638, 586], [630, 604, 648, 586]].forEach(function (s) {
  graphics.push({type: 'line', z: 10, shape: {x1: s[0], y1: s[1], x2: s[2], y2: s[3]},
    style: {stroke: '#444', lineWidth: 1.5}});
});

chart.setOption({
  animation: false,
  backgroundColor: '#fff',
  grid: [
    {left: 57, top: 22, width: 571, height: 572, outerBoundsMode: 'none', containLabel: false},
    {left: 643, top: 22, width: 570, height: 572, outerBoundsMode: 'none', containLabel: false}
  ],
  xAxis: [
    xAx(0, 7.5, 300, leftTicks, leftTickLabels, 'bottom', false),
    xAx(1, 598, 1300, rightTicks, rightTickLabels, 'bottom', true),
    xAx(0, 7.5, 300, [], [], 'top', false),
    xAx(1, 598, 1300, [], [], 'top', false)
  ],
  yAxis: [yAx(0, 'left'), yAx(1, 'right')],
  series: series,
  graphic: graphics
});
</script>
</body></html>
